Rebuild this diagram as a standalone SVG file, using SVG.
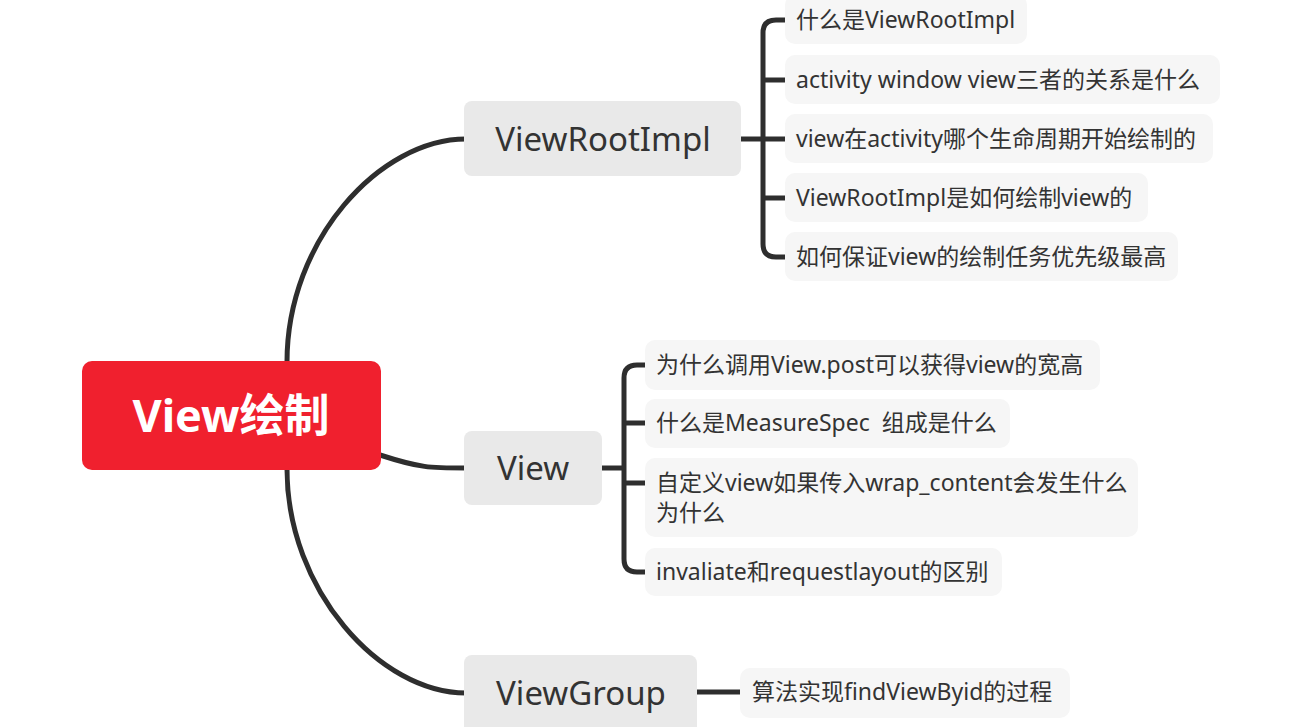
<svg xmlns="http://www.w3.org/2000/svg" width="1294" height="727" viewBox="0 0 1294 727">
<style>
.t{font-family:"Noto Sans","Noto Sans CJK SC",sans-serif;fill:#333}
.main{font-size:33px}
.sub{font-size:23px}
.node{fill:#e9e9e9}
.leaf{fill:#f6f6f6}
.c{fill:none;stroke:#2e2e2e;stroke-width:5;stroke-linecap:butt}
</style>
<rect width="1294" height="727" fill="#ffffff"/>
<g id="connectors">
<path class="c" d="M287,362 C287,240 380,139 466,139"/>
<path class="c" d="M380,455 C420,468 430,468 466,468"/>
<path class="c" d="M287,469 C287,590 380,693 466,693"/>
<path class="c" d="M740,139 H763"/>
<path class="c" d="M787,20 H776 Q763,20 763,33 V244 Q763,257 776,257 H787 M763,80 H787 M763,139 H787 M763,198 H787"/>
<path class="c" d="M601,468 H624"/>
<path class="c" d="M647,365 H637 Q624,365 624,378 V559 Q624,572 637,572 H647 M624,423 H647 M624,483 H647"/>
<path class="c" d="M696,692 H742"/>
</g>
<g id="root">
<rect x="82" y="361" width="299" height="109" rx="10" fill="#f0202e"/>
<text x="231" y="432" text-anchor="middle" font-family="'Noto Sans','Noto Sans CJK SC',sans-serif" font-weight="bold" font-size="45" fill="#ffffff">View绘制</text>
</g>
<g id="viewrootimpl">
<rect class="node" x="464" y="101" width="277" height="75" rx="8"/>
<text class="t main" x="603" y="151" text-anchor="middle">ViewRootImpl</text>
</g>
<g id="view">
<rect class="node" x="464" y="431" width="138" height="74" rx="8"/>
<text class="t main" x="533" y="480" text-anchor="middle">View</text>
</g>
<g id="viewgroup">
<rect class="node" x="464" y="655" width="233" height="80" rx="8"/>
<text class="t main" x="581" y="705" text-anchor="middle">ViewGroup</text>
</g>
<g id="vr1"><rect class="leaf" x="785" y="-5" width="242" height="49" rx="10"/><text class="t sub" x="796" y="28">什么是ViewRootImpl</text></g>
<g id="vr2"><rect class="leaf" x="785" y="55" width="435" height="49" rx="10"/><text class="t sub" x="796" y="88">activity window view三者的关系是什么</text></g>
<g id="vr3"><rect class="leaf" x="785" y="114" width="428" height="49" rx="10"/><text class="t sub" x="796" y="147">view在activity哪个生命周期开始绘制的</text></g>
<g id="vr4"><rect class="leaf" x="785" y="173" width="363" height="49" rx="10"/><text class="t sub" x="796" y="206">ViewRootImpl是如何绘制view的</text></g>
<g id="vr5"><rect class="leaf" x="785" y="232" width="393" height="49" rx="10"/><text class="t sub" x="796" y="265">如何保证view的绘制任务优先级最高</text></g>
<g id="v1"><rect class="leaf" x="645" y="340" width="455" height="50" rx="10"/><text class="t sub" x="656" y="373">为什么调用View.post可以获得view的宽高</text></g>
<g id="v2"><rect class="leaf" x="645" y="399" width="365" height="49" rx="10"/><text class="t sub" x="656" y="431" xml:space="preserve">什么是MeasureSpec  组成是什么</text></g>
<g id="v3"><rect class="leaf" x="645" y="458" width="493" height="79" rx="10"/><text class="t sub" x="656" y="491">自定义view如果传入wrap_content会发生什么</text><text class="t sub" x="656" y="521">为什么</text></g>
<g id="v4"><rect class="leaf" x="645" y="548" width="357" height="48" rx="10"/><text class="t sub" x="656" y="580">invaliate和requestlayout的区别</text></g>
<g id="vg1"><rect class="leaf" x="740" y="668" width="330" height="50" rx="10"/><text class="t sub" x="752" y="700">算法实现findViewByid的过程</text></g>
</svg>
